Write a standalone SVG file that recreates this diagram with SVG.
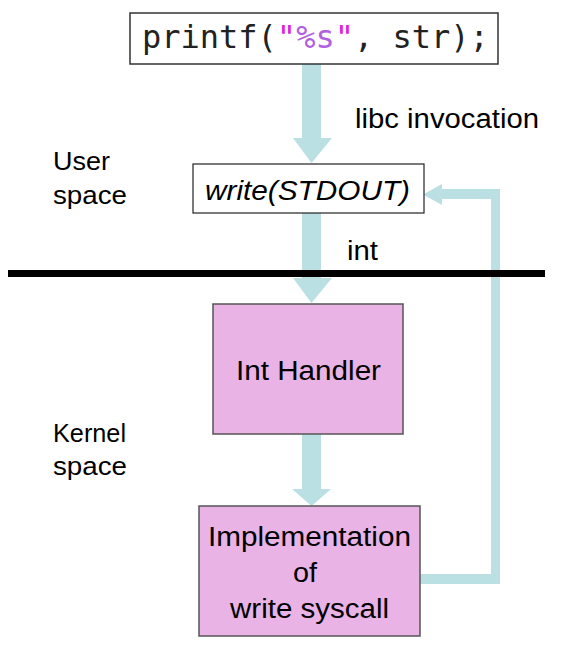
<svg xmlns="http://www.w3.org/2000/svg" width="565" height="650" viewBox="0 0 565 650">
<style>
.lbl{font-family:"Liberation Sans",Arial,sans-serif;fill:#000}
.mono{font-family:"DejaVu Sans Mono","Liberation Mono",monospace;font-size:32px}
.pink{fill:#e9b3e6;stroke:#555;stroke-width:1.5}
.arr{fill:#bae0e3}
</style>
<rect width="565" height="650" fill="#fff"/>
<g id="connectors">
<polygon class="arr" points="302,64 321,64 321,138 332,138 311.5,163 293,138 302,138"/>
<polygon class="arr" points="302,213 321,213 321,278 332,278 311.5,303 293,278 302,278"/>
<polygon class="arr" points="302,434 321,434 321,489 331,489 311.5,506 292,489 302,489"/>
<polygon class="arr" points="420,574 491,574 491,199 442,199 442,205 423,194.5 442,184 442,189 500,189 500,584 420,584"/>
</g>
<rect id="separator" x="8" y="270" width="537" height="7" fill="#000"/>
<g id="printf">
<rect x="130" y="13" width="368" height="51" fill="#fff" stroke="#333" stroke-width="1.5"/>
<text class="mono" x="142" y="48" fill="#222">printf(<tspan fill="#e020e0">"</tspan><tspan fill="#b060e0">%s</tspan><tspan fill="#e020e0">"</tspan>, str);</text>
</g>
<g id="write">
<rect x="193" y="164" width="231" height="49" fill="#fff" stroke="#222" stroke-width="1.2"/>
<text class="lbl" x="205" y="200" font-size="27" font-style="italic" textLength="205" lengthAdjust="spacingAndGlyphs">write(STDOUT)</text>
</g>
<g id="inthandler">
<rect class="pink" x="213" y="304" width="190" height="130"/>
<text class="lbl" x="236" y="380" font-size="27" textLength="145" lengthAdjust="spacingAndGlyphs">Int Handler</text>
</g>
<g id="impl">
<rect class="pink" x="199" y="506" width="221" height="130"/>
<text class="lbl" x="208" y="546" font-size="27" textLength="203" lengthAdjust="spacingAndGlyphs">Implementation</text>
<text class="lbl" x="293" y="582" font-size="27" textLength="24" lengthAdjust="spacingAndGlyphs">of</text>
<text class="lbl" x="230" y="618" font-size="27" textLength="159" lengthAdjust="spacingAndGlyphs">write syscall</text>
</g>
<g id="labels">
<text class="lbl" x="355" y="128" font-size="27" textLength="184" lengthAdjust="spacingAndGlyphs">libc invocation</text>
<text class="lbl" x="347" y="260" font-size="27" textLength="31" lengthAdjust="spacingAndGlyphs">int</text>
<text class="lbl" x="53" y="170" font-size="25" textLength="57" lengthAdjust="spacingAndGlyphs">User</text>
<text class="lbl" x="53" y="204" font-size="25" textLength="74" lengthAdjust="spacingAndGlyphs">space</text>
<text class="lbl" x="53" y="442" font-size="25" textLength="73" lengthAdjust="spacingAndGlyphs">Kernel</text>
<text class="lbl" x="53" y="475" font-size="25" textLength="74" lengthAdjust="spacingAndGlyphs">space</text>
</g>
</svg>
